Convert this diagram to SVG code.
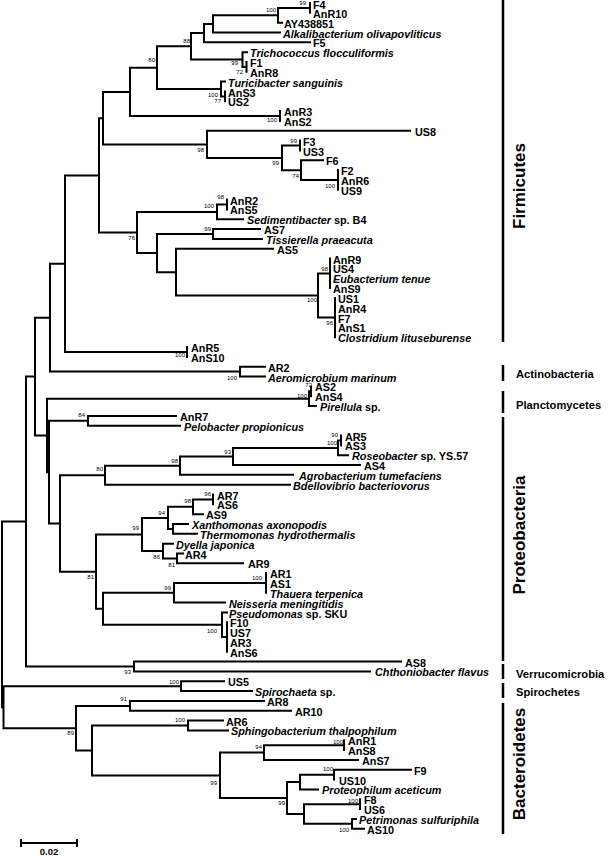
<svg xmlns="http://www.w3.org/2000/svg" width="608" height="856" viewBox="0 0 608 856">
<style>
.br{fill:none;stroke:#000;stroke-width:2;stroke-linecap:square}
.grp{fill:none;stroke:#000;stroke-width:2.5}
.l{font-family:"Liberation Sans",Arial,sans-serif;font-weight:bold;font-size:10.8px;fill:#000}
.i{font-style:italic}
.bs{font-family:"Liberation Sans",Arial,sans-serif;font-size:6px;fill:#000;text-anchor:end}
.g{font-family:"Liberation Sans",Arial,sans-serif;font-weight:bold;font-size:11.2px;fill:#000}
.gv{font-family:"Liberation Sans",Arial,sans-serif;font-weight:bold;font-size:17px;fill:#000;text-anchor:middle}
</style>
<rect width="608" height="856" fill="#fff"/>
<g id="connectors">
<path class="br" d="M310 3 V12.8 M310 7.9 H278 V22.7 H282 M278 15.3 H213 V32.5 H280 M213 23.9 H204 V42.3 H310 M246.5 62 V71.8 M247 52.2 H242.5 V66.9 H246.5 M204 33.1 H191 V59.6 H242.5 M225 91.5 V101.3 M225 81.6 H221 V96.4 H225 M191 46.3 H157 V89 H221 M280 111.1 V121 M157 67.7 H130 V116.1 H280"/>
<path class="br" d="M300 140.6 V150.5 M338 170.1 V189.8 M323 160.3 H301 V180 H338 M300 145.6 H282 V170.2 H301 M410 130.8 H207 V157.9 H282 M130 91.9 H103 V144.4 H207"/>
<path class="br" d="M227 199.6 V209.4 M227 204.5 H217 V219.3 H243 M260 229.1 H213 V238.9 H262 M330 258.6 V288.1 M335 297.9 V337.2 M330 273.4 H318 V317.6 H335 M273 248.8 H176 V295.5 H318 M213 234 H157 V272.2 H176 M217 211.9 H137 V253.1 H157 M103 118.2 H99 V232.5 H137"/>
<path class="br" d="M187 347.1 V356.9 M99 175.4 H65 V352 H187 M265 366.7 H240 V376.5 H265 M65 263.7 H50 V371.6 H240"/>
<path class="br" d="M311 386.4 V396.2 M311 391.3 H309 V406 H316 M176 415.9 H88 V425.7 H180"/>
<path class="br" d="M341 435.5 V445.4 M341 440.5 H338 V455.2 H348 M338 447.9 H233 V465 H360 M233 456.5 H180 V474.8 H293 M180 465.7 H105 V484.7 H290"/>
<path class="br" d="M213 494.5 V504.3 M213 499.4 H193 V514.2 H203 M188 524 H173 V533.8 H197 M193 506.8 H168 V528.9 H173 M183 553.5 H177 V563.3 H243 M173 543.7 H163 V558.4 H177 M168 517.9 H142 V551.1 H163"/>
<path class="br" d="M266 573.1 V592.8 M266 583 H174 V602.6 H225 M227 622.3 V651.8 M227 612.5 H222 V637.1 H227 M174 592.8 H103 V624.8 H222 M142 534.5 H96 V608.8 H103 M105 475.2 H60 V571.7 H96 M88 420.8 H49 V523.5 H60 M309 398.7 H47 V472.2 H49 M50 317.7 H35 V435.5 H47"/>
<path class="br" d="M401 661.6 H134 V671.4 H370 M35 376.6 H26 V666.5 H134"/>
<path class="br" d="M224 681.3 H181 V691.1 H252 M264 700.9 H130 V710.8 H291 M223 720.6 H188 V730.4 H228 M344 740.3 V750.1 M344 745.2 H264 V759.9 H358 M411 769.7 H334 V779.6 M334 774.7 H300 V789.4 H318 M360 799.2 V809.1 M356 818.9 H352 V828.7 H364 M360 804.2 H304 V823.8 H352 M300 782.1 H287 V814 H304 M264 752.6 H220 V798.1 H287 M188 725.5 H92 V775.4 H220 M130 705.9 H76 V750.5 H92 M181 686.2 H3.5 V728.2 H76 M26 521.6 H2 V707.2 H3.5"/>
</g>
<g id="bootstrap">
<text class="bs" x="306" y="5">99</text>
<text class="bs" x="276" y="12">100</text>
<text class="bs" x="190" y="43">88</text>
<text class="bs" x="155" y="62">80</text>
<text class="bs" x="238" y="65">99</text>
<text class="bs" x="243" y="74">72</text>
<text class="bs" x="218" y="97">100</text>
<text class="bs" x="221" y="103">77</text>
<text class="bs" x="277" y="122">100</text>
<text class="bs" x="204" y="152">98</text>
<text class="bs" x="297" y="143">99</text>
<text class="bs" x="279" y="165">99</text>
<text class="bs" x="299" y="178">74</text>
<text class="bs" x="335" y="188">100</text>
<text class="bs" x="224" y="199">98</text>
<text class="bs" x="214" y="208">100</text>
<text class="bs" x="135" y="240">76</text>
<text class="bs" x="211" y="231">99</text>
<text class="bs" x="328" y="271">98</text>
<text class="bs" x="317" y="302">100</text>
<text class="bs" x="333" y="325">96</text>
<text class="bs" x="185" y="357">100</text>
<text class="bs" x="237" y="380">100</text>
<text class="bs" x="312" y="386.5">72</text>
<text class="bs" x="307" y="398">100</text>
<text class="bs" x="85" y="417">84</text>
<text class="bs" x="338" y="437">90</text>
<text class="bs" x="337" y="445">100</text>
<text class="bs" x="231" y="454">93</text>
<text class="bs" x="178" y="463">98</text>
<text class="bs" x="103" y="471">80</text>
<text class="bs" x="211" y="496">96</text>
<text class="bs" x="191" y="503">98</text>
<text class="bs" x="165" y="515">94</text>
<text class="bs" x="139" y="530">99</text>
<text class="bs" x="160" y="559">86</text>
<text class="bs" x="175" y="567">81</text>
<text class="bs" x="94" y="579">81</text>
<text class="bs" x="262" y="580">100</text>
<text class="bs" x="171" y="590">99</text>
<text class="bs" x="217" y="633">100</text>
<text class="bs" x="131" y="674">93</text>
<text class="bs" x="179" y="684">100</text>
<text class="bs" x="127" y="701">91</text>
<text class="bs" x="185" y="722">100</text>
<text class="bs" x="74" y="735">89</text>
<text class="bs" x="343" y="744">100</text>
<text class="bs" x="262" y="749">94</text>
<text class="bs" x="333" y="771">100</text>
<text class="bs" x="217" y="785">99</text>
<text class="bs" x="358" y="803">100</text>
<text class="bs" x="285" y="805">99</text>
<text class="bs" x="349" y="832">100</text>
</g>
<g id="leaf-F4"><text class="l" x="313" y="8.5">F4</text></g>
<g id="leaf-AnR10"><text class="l" x="313" y="17.8">AnR10</text></g>
<g id="leaf-AY438851"><text class="l" x="284" y="27.7">AY438851</text></g>
<g id="leaf-Alkalibacterium"><text class="l i" x="283" y="37.5">Alkalibacterium olivapovliticus</text></g>
<g id="leaf-F5"><text class="l" x="313" y="47.3">F5</text></g>
<g id="leaf-Trichococcus"><text class="l i" x="250" y="57.2">Trichococcus flocculiformis</text></g>
<g id="leaf-F1"><text class="l" x="250" y="67">F1</text></g>
<g id="leaf-AnR8"><text class="l" x="250" y="76.8">AnR8</text></g>
<g id="leaf-Turicibacter"><text class="l i" x="228" y="86.6">Turicibacter sanguinis</text></g>
<g id="leaf-AnS3"><text class="l" x="228" y="96.5">AnS3</text></g>
<g id="leaf-US2"><text class="l" x="228" y="106.3">US2</text></g>
<g id="leaf-AnR3"><text class="l" x="284" y="116.1">AnR3</text></g>
<g id="leaf-AnS2"><text class="l" x="284" y="126">AnS2</text></g>
<g id="leaf-US8"><text class="l" x="415" y="135.8">US8</text></g>
<g id="leaf-F3"><text class="l" x="303" y="145.6">F3</text></g>
<g id="leaf-US3"><text class="l" x="303" y="155.5">US3</text></g>
<g id="leaf-F6"><text class="l" x="326" y="165.3">F6</text></g>
<g id="leaf-F2"><text class="l" x="341" y="175.1">F2</text></g>
<g id="leaf-AnR6"><text class="l" x="341" y="184.9">AnR6</text></g>
<g id="leaf-US9"><text class="l" x="341" y="194.8">US9</text></g>
<g id="leaf-AnR2"><text class="l" x="230" y="204.6">AnR2</text></g>
<g id="leaf-AnS5"><text class="l" x="230" y="214.4">AnS5</text></g>
<g id="leaf-Sedimentibacter"><text class="l" x="247" y="224.3"><tspan class="i">Sedimentibacter</tspan> sp. B4</text></g>
<g id="leaf-AS7"><text class="l" x="264" y="234.1">AS7</text></g>
<g id="leaf-Tissierella"><text class="l i" x="266" y="243.9">Tissierella praeacuta</text></g>
<g id="leaf-AS5"><text class="l" x="277" y="253.8">AS5</text></g>
<g id="leaf-AnR9"><text class="l" x="333" y="263.6">AnR9</text></g>
<g id="leaf-US4"><text class="l" x="333" y="273.4">US4</text></g>
<g id="leaf-Eubacterium"><text class="l i" x="333" y="283.2">Eubacterium tenue</text></g>
<g id="leaf-AnS9"><text class="l" x="333" y="293.1">AnS9</text></g>
<g id="leaf-US1"><text class="l" x="338" y="302.9">US1</text></g>
<g id="leaf-AnR4"><text class="l" x="338" y="312.7">AnR4</text></g>
<g id="leaf-F7"><text class="l" x="338" y="322.6">F7</text></g>
<g id="leaf-AnS1"><text class="l" x="338" y="332.4">AnS1</text></g>
<g id="leaf-Clostridium"><text class="l i" x="338" y="342.2">Clostridium lituseburense</text></g>
<g id="leaf-AnR5"><text class="l" x="191" y="352.1">AnR5</text></g>
<g id="leaf-AnS10"><text class="l" x="191" y="361.9">AnS10</text></g>
<g id="leaf-AR2"><text class="l" x="268" y="371.7">AR2</text></g>
<g id="leaf-Aeromicrobium"><text class="l i" x="268" y="381.5">Aeromicrobium marinum</text></g>
<g id="leaf-AS2"><text class="l" x="315" y="391.4">AS2</text></g>
<g id="leaf-AnS4"><text class="l" x="315" y="401.2">AnS4</text></g>
<g id="leaf-Pirellula"><text class="l" x="320" y="411"><tspan class="i">Pirellula</tspan> sp.</text></g>
<g id="leaf-AnR7"><text class="l" x="180" y="420.9">AnR7</text></g>
<g id="leaf-Pelobacter"><text class="l i" x="184" y="430.7">Pelobacter propionicus</text></g>
<g id="leaf-AR5"><text class="l" x="345" y="440.5">AR5</text></g>
<g id="leaf-AS3"><text class="l" x="345" y="450.4">AS3</text></g>
<g id="leaf-Roseobacter"><text class="l" x="352" y="460.2"><tspan class="i">Roseobacter</tspan> sp. YS.57</text></g>
<g id="leaf-AS4"><text class="l" x="364" y="470">AS4</text></g>
<g id="leaf-Agrobacterium"><text class="l i" x="299" y="479.8">Agrobacterium tumefaciens</text></g>
<g id="leaf-Bdellovibrio"><text class="l i" x="293" y="489.7">Bdellovibrio bacteriovorus</text></g>
<g id="leaf-AR7"><text class="l" x="217" y="499.5">AR7</text></g>
<g id="leaf-AS6"><text class="l" x="217" y="509.3">AS6</text></g>
<g id="leaf-AS9"><text class="l" x="206" y="519.2">AS9</text></g>
<g id="leaf-Xanthomonas"><text class="l i" x="192" y="529">Xanthomonas axonopodis</text></g>
<g id="leaf-Thermomonas"><text class="l i" x="200" y="538.8">Thermomonas hydrothermalis</text></g>
<g id="leaf-Dyella"><text class="l i" x="176" y="548.7">Dyella japonica</text></g>
<g id="leaf-AR4"><text class="l" x="185" y="558.5">AR4</text></g>
<g id="leaf-AR9"><text class="l" x="248" y="568.3">AR9</text></g>
<g id="leaf-AR1"><text class="l" x="270" y="578.1">AR1</text></g>
<g id="leaf-AS1"><text class="l" x="270" y="588">AS1</text></g>
<g id="leaf-Thauera"><text class="l i" x="270" y="597.8">Thauera terpenica</text></g>
<g id="leaf-Neisseria"><text class="l i" x="229" y="607.6">Neisseria meningitidis</text></g>
<g id="leaf-Pseudomonas"><text class="l" x="229" y="617.5"><tspan class="i">Pseudomonas</tspan> sp. SKU</text></g>
<g id="leaf-F10"><text class="l" x="230" y="627.3">F10</text></g>
<g id="leaf-US7"><text class="l" x="230" y="637.1">US7</text></g>
<g id="leaf-AR3"><text class="l" x="230" y="647">AR3</text></g>
<g id="leaf-AnS6"><text class="l" x="230" y="656.8">AnS6</text></g>
<g id="leaf-AS8"><text class="l" x="405" y="666.6">AS8</text></g>
<g id="leaf-Chthoniobacter"><text class="l i" x="375" y="676.4">Chthoniobacter flavus</text></g>
<g id="leaf-US5"><text class="l" x="228" y="686.3">US5</text></g>
<g id="leaf-Spirochaeta"><text class="l" x="255" y="696.1"><tspan class="i">Spirochaeta</tspan> sp.</text></g>
<g id="leaf-AR8"><text class="l" x="267" y="705.9">AR8</text></g>
<g id="leaf-AR10"><text class="l" x="295" y="715.8">AR10</text></g>
<g id="leaf-AR6"><text class="l" x="226" y="725.6">AR6</text></g>
<g id="leaf-Sphingobacterium"><text class="l i" x="231" y="735.4">Sphingobacterium thalpophilum</text></g>
<g id="leaf-AnR1"><text class="l" x="348" y="745.3">AnR1</text></g>
<g id="leaf-AnS8"><text class="l" x="348" y="755.1">AnS8</text></g>
<g id="leaf-AnS7"><text class="l" x="362" y="764.9">AnS7</text></g>
<g id="leaf-F9"><text class="l" x="414" y="774.7">F9</text></g>
<g id="leaf-US10"><text class="l" x="339" y="784.6">US10</text></g>
<g id="leaf-Proteophilum"><text class="l i" x="322" y="794.4">Proteophilum aceticum</text></g>
<g id="leaf-F8"><text class="l" x="364" y="804.2">F8</text></g>
<g id="leaf-US6"><text class="l" x="364" y="814.1">US6</text></g>
<g id="leaf-Petrimonas"><text class="l i" x="359" y="823.9">Petrimonas sulfuriphila</text></g>
<g id="leaf-AS10"><text class="l" x="367" y="833.7">AS10</text></g>
<g id="groups">
<path class="grp" d="M503 0 V342 M503 365 V381 M503 391 V413 M503 417 V661 M503 664 V679 M503 683 V698 M503 703 V834"/>
<text class="gv" transform="translate(525 186) rotate(-90)">Firmicutes</text>
<text class="g" x="516" y="377.5">Actinobacteria</text>
<text class="g" x="516" y="408.5">Planctomycetes</text>
<text class="gv" transform="translate(525 535) rotate(-90)">Proteobacteria</text>
<text class="g" x="516" y="677.5">Verrucomicrobia</text>
<text class="g" x="516" y="695.5">Spirochetes</text>
<text class="gv" transform="translate(525 764) rotate(-90)">Bacteroidetes</text>
</g>
<g id="scalebar">
<path class="br" d="M21 843 H77 M21 840 V846 M77 840 V846"/>
<text class="l" x="49" y="855" text-anchor="middle" style="font-size:9.5px">0.02</text>
</g>
</svg>
